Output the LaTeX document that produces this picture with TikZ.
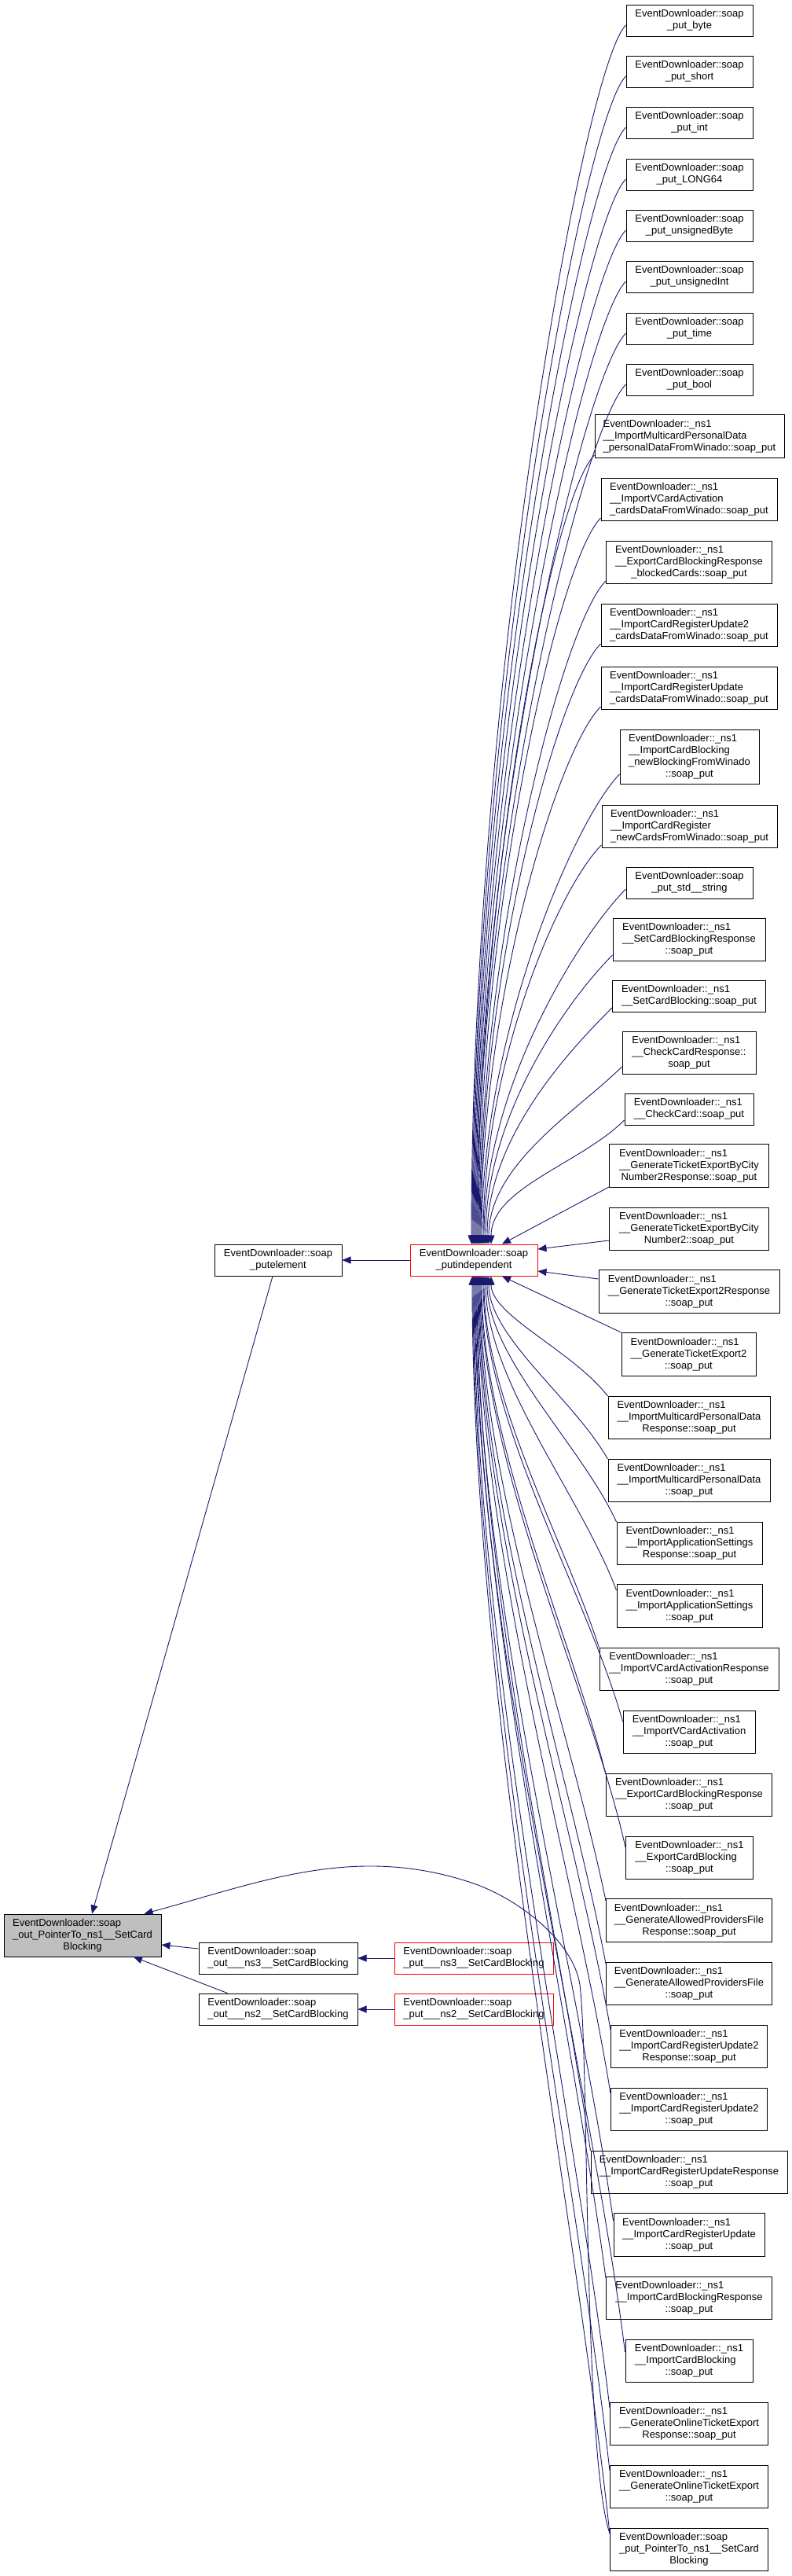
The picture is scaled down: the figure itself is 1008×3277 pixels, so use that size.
\documentclass[tikz,border=0pt]{standalone}
\usepackage{fontspec}
\setmainfont{Liberation Sans}
\usetikzlibrary{arrows.meta,calc}
\definecolor{edgeblue}{HTML}{191970}
\definecolor{maingray}{HTML}{BFBFBF}
\newcommand\fsz{\fontsize{13}{15}\selectfont}
\newcommand\dxl[2]{\begin{tabular}{@{}l@{}}#1\\\multicolumn{1}{@{}c@{}}{#2}\end{tabular}}
\newcommand\EDs{EventDownloader::soap}
\newcommand\ENs{EventDownloader::\_ns1}
\tikzset{
  box/.style={draw=black, line width=1pt, fill=white, inner sep=0pt, font=\fsz, text=black},
  redbox/.style={box, draw=red},
  mainbox/.style={box, fill=maingray},
  wh/.style 2 args={minimum width=#1pt, minimum height=#2pt},
  edge/.style={draw=edgeblue, line width=0.9pt, -{Triangle[length=11pt,width=9pt]}}
}
\begin{document}
\begin{tikzpicture}[x=1pt,y=-1pt]
\fill[white] (0,0) rectangle (1008,3277);
\useasboundingbox (0,0) rectangle (1008,3277);

% right column
\node[box,wh={161}{40}] (r1) at (877.5,26) {\dxl{\EDs}{\_put\_byte}};
\node[box,wh={161}{40}] (r2) at (877.5,91) {\dxl{\EDs}{\_put\_short}};
\node[box,wh={161}{40}] (r3) at (877.5,156) {\dxl{\EDs}{\_put\_int}};
\node[box,wh={161}{40}] (r4) at (877.5,222) {\dxl{\EDs}{\_put\_LONG64}};
\node[box,wh={161}{40}] (r5) at (877.5,287) {\dxl{\EDs}{\_put\_unsignedByte}};
\node[box,wh={161}{40}] (r6) at (877.5,352) {\dxl{\EDs}{\_put\_unsignedInt}};
\node[box,wh={161}{40}] (r7) at (877.5,418) {\dxl{\EDs}{\_put\_time}};
\node[box,wh={161}{40}] (r8) at (877.5,483) {\dxl{\EDs}{\_put\_bool}};
\node[box,wh={241}{55}] (r9) at (877.5,555) {\dxl{\ENs\\\_\_ImportMulticardPersonalData}{\_personalDataFromWinado::soap\_put}};
\node[box,wh={224}{54}] (r10) at (877,635) {\dxl{\ENs\\\_\_ImportVCardActivation}{\_cardsDataFromWinado::soap\_put}};
\node[box,wh={211}{54}] (r11) at (877,715) {\dxl{\ENs\\\_\_ExportCardBlockingResponse}{\_blockedCards::soap\_put}};
\node[box,wh={224}{54}] (r12) at (877,795) {\dxl{\ENs\\\_\_ImportCardRegisterUpdate2}{\_cardsDataFromWinado::soap\_put}};
\node[box,wh={224}{54}] (r13) at (877,875) {\dxl{\ENs\\\_\_ImportCardRegisterUpdate}{\_cardsDataFromWinado::soap\_put}};
\node[box,wh={177}{69}] (r14) at (877.5,963) {\dxl{\ENs\\\_\_ImportCardBlocking\\\_newBlockingFromWinado}{::soap\_put}};
\node[box,wh={223}{54}] (r15) at (877.5,1051) {\dxl{\ENs\\\_\_ImportCardRegister}{\_newCardsFromWinado::soap\_put}};
\node[box,wh={161}{40}] (r16) at (877.5,1123) {\dxl{\EDs}{\_put\_std\_\_string}};
\node[box,wh={194}{54}] (r17) at (877,1195) {\dxl{\ENs\\\_\_SetCardBlockingResponse}{::soap\_put}};
\node[box,wh={195}{40}] (r18) at (877,1267) {\dxl{\ENs}{\_\_SetCardBlocking::soap\_put}};
\node[box,wh={170}{54}] (r19) at (877,1339) {\dxl{\ENs\\\_\_CheckCardResponse::}{soap\_put}};
\node[box,wh={164}{40}] (r20) at (877,1411) {\dxl{\ENs}{\_\_CheckCard::soap\_put}};
\node[box,wh={203}{55}] (r21) at (877,1483) {\dxl{\ENs\\\_\_GenerateTicketExportByCity}{Number2Response::soap\_put}};
\node[box,wh={203}{54}] (r22) at (877,1563) {\dxl{\ENs\\\_\_GenerateTicketExportByCity}{Number2::soap\_put}};
\node[box,wh={230}{55}] (r23) at (877,1643) {\dxl{\ENs\\\_\_GenerateTicketExport2Response}{::soap\_put}};
\node[box,wh={171}{55}] (r24) at (876.5,1723) {\dxl{\ENs\\\_\_GenerateTicketExport2}{::soap\_put}};
\node[box,wh={206}{54}] (r25) at (877,1803) {\dxl{\ENs\\\_\_ImportMulticardPersonalData}{Response::soap\_put}};
\node[box,wh={206}{54}] (r26) at (877,1883) {\dxl{\ENs\\\_\_ImportMulticardPersonalData}{::soap\_put}};
\node[box,wh={185}{54}] (r27) at (877.5,1963) {\dxl{\ENs\\\_\_ImportApplicationSettings}{Response::soap\_put}};
\node[box,wh={185}{55}] (r28) at (877.5,2043) {\dxl{\ENs\\\_\_ImportApplicationSettings}{::soap\_put}};
\node[box,wh={228}{54}] (r29) at (877,2123) {\dxl{\ENs\\\_\_ImportVCardActivationResponse}{::soap\_put}};
\node[box,wh={168}{54}] (r30) at (877,2203) {\dxl{\ENs\\\_\_ImportVCardActivation}{::soap\_put}};
\node[box,wh={211}{54}] (r31) at (877,2283) {\dxl{\ENs\\\_\_ExportCardBlockingResponse}{::soap\_put}};
\node[box,wh={162}{54}] (r32) at (877.5,2363) {\dxl{\ENs\\\_\_ExportCardBlocking}{::soap\_put}};
\node[box,wh={211}{55}] (r33) at (877,2443) {\dxl{\ENs\\\_\_GenerateAllowedProvidersFile}{Response::soap\_put}};
\node[box,wh={211}{54}] (r34) at (877,2523) {\dxl{\ENs\\\_\_GenerateAllowedProvidersFile}{::soap\_put}};
\node[box,wh={199}{54}] (r35) at (877,2603) {\dxl{\ENs\\\_\_ImportCardRegisterUpdate2}{Response::soap\_put}};
\node[box,wh={199}{54}] (r36) at (877,2683) {\dxl{\ENs\\\_\_ImportCardRegisterUpdate2}{::soap\_put}};
\node[box,wh={250}{54}] (r37) at (877,2763) {\dxl{\ENs\\\_\_ImportCardRegisterUpdateResponse}{::soap\_put}};
\node[box,wh={192}{55}] (r38) at (877,2843) {\dxl{\ENs\\\_\_ImportCardRegisterUpdate}{::soap\_put}};
\node[box,wh={211}{54}] (r39) at (877,2923) {\dxl{\ENs\\\_\_ImportCardBlockingResponse}{::soap\_put}};
\node[box,wh={162}{54}] (r40) at (877,3003) {\dxl{\ENs\\\_\_ImportCardBlocking}{::soap\_put}};
\node[box,wh={201}{54}] (r41) at (877,3083) {\dxl{\ENs\\\_\_GenerateOnlineTicketExport}{Response::soap\_put}};
\node[box,wh={201}{54}] (r42) at (877,3163) {\dxl{\ENs\\\_\_GenerateOnlineTicketExport}{::soap\_put}};
\node[box,wh={201}{54}] (r43) at (877,3243) {\dxl{\EDs\\\_put\_PointerTo\_ns1\_\_SetCard}{Blocking}};

% left part
\node[mainbox,wh={200}{54}] (main) at (105,2462) {\dxl{\EDs\\\_out\_PointerTo\_ns1\_\_SetCard}{Blocking}};
\node[box,wh={162}{40}] (pe) at (354,1603) {\dxl{\EDs}{\_putelement}};
\node[redbox,wh={162}{40}] (pi) at (603,1603) {\dxl{\EDs}{\_putindependent}};
\node[box,wh={202}{40}] (on3) at (354,2491) {\dxl{\EDs}{\_out\_\_\_ns3\_\_SetCardBlocking}};
\node[box,wh={202}{40}] (on2) at (354,2556) {\dxl{\EDs}{\_out\_\_\_ns2\_\_SetCardBlocking}};
\node[redbox,wh={202}{40}] (pn3) at (603,2491) {\dxl{\EDs}{\_put\_\_\_ns3\_\_SetCardBlocking}};
\node[redbox,wh={202}{40}] (pn2) at (603,2556) {\dxl{\EDs}{\_put\_\_\_ns2\_\_SetCardBlocking}};

% edges from upper right nodes into putindependent
\foreach \i/\sy/\ex/\dd in {1/6/-3/698, 2/6/-2/669, 3/6/-1/639, 4/6/0/610, 5/6/1/580,
  6/6/2/551, 7/6/3/522, 8/6/4/492, 9/24/5/452, 10/24/6/416, 11/24/7/380, 12/24/8/344,
  13/24/9/308, 14/22/10/269, 15/24/12/229, 16/8/13/203, 17/20/15/166, 18/15/17/135,
  19/18/19/102, 20/14/22/71} {
  \draw[edge] ($(r\i.west)+(0,\sy)$) .. controls +(-55,55) and ($(pi.north)+(\ex,-\dd)$) .. ($(pi.north)+(\ex,0)$);
}
% near nodes
\draw[edge] ($(r21.west)+(0,27)$) -- ($(pi.north)+(36,0)$);
\draw[edge] ($(r22.west)+(0,15)$) -- ($(pi.east)+(0,-14)$);
\draw[edge] ($(r23.west)+(0,-16)$) -- ($(pi.east)+(0,14)$);
\draw[edge] (r24.north west) -- ($(pi.south)+(36,0)$);
% edges from lower right nodes into putindependent
\foreach \i/\sy/\ex/\bb/\dd in {25/-27/22/58/50, 26/-27/19/78/77, 27/-27/17/98/103,
  28/-20/15/120/132, 29/-27/13/138/156, 30/-13/12/162/187, 31/-26/10/178/209,
  32/-13/9/202/240, 33/-25/8/219/262, 34/-25/7/239/289, 35/-21/6/260/316,
  36/-20/5/280/343, 37/-27/4/298/367, 38/-18/3/320/397, 39/-25/2/339/421,
  40/-11/1/362/452, 41/-20/0/380/475, 42/-20/-1/400/502, 43/-20/-2/420/528} {
  \draw[edge] ($(r\i.west)+(0,\sy)$) .. controls +(-45,-\bb) and ($(pi.south)+(\ex,\dd)$) .. ($(pi.south)+(\ex,0)$);
}

% left edges
\draw[edge] (pi.west) -- (pe.east);
\draw[edge] ($(pe.south)+(-7,0)$) -- ($(main.north)+(12,0)$);
\draw[edge] ($(on3.west)+(0,-12)$) -- ($(main.east)+(0,12)$);
\draw[edge] ($(on2.north west)+(37,0)$) -- ($(main.south)+(65,0)$);
\draw[edge] (pn3.west) -- (on3.east);
\draw[edge] (pn2.west) -- (on2.east);
\draw[edge] ($(r43.west)+(0,-20)$) .. controls (742,3120) and (750,2620) .. (738,2525)
  .. controls (730,2470) and (660,2415) .. (600,2395)
  .. controls (450,2345) and (330,2395) .. ($(main.north east)+(-22,0)$);
\end{tikzpicture}
\end{document}
